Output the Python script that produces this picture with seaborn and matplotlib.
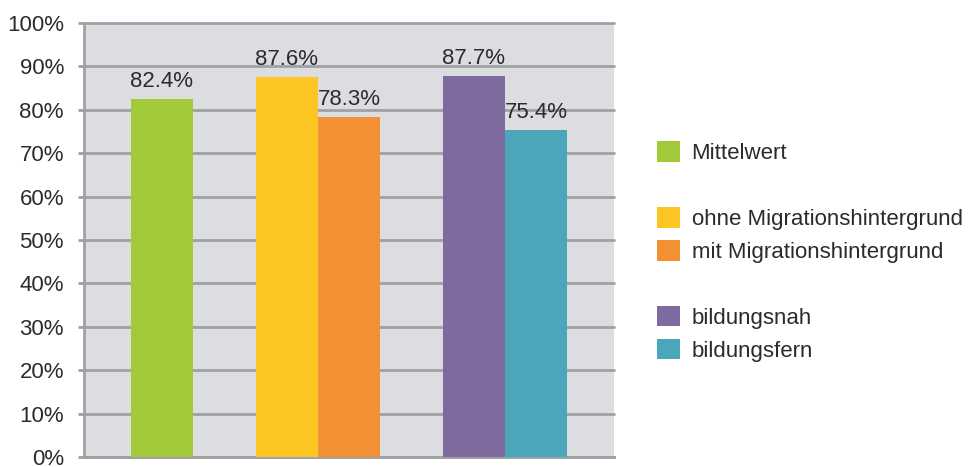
import matplotlib
matplotlib.use("Agg")
import matplotlib.pyplot as plt
from matplotlib.patches import Rectangle
import seaborn as sns
import pandas as pd

categories = ["Mittelwert", "ohne Migrationshintergrund", "mit Migrationshintergrund",
              "bildungsnah", "bildungsfern"]
values = [82.4, 87.6, 78.3, 87.7, 75.4]
colors = ["#a2c93a", "#fdc521", "#f39034", "#7f6a9f", "#4aa6b8"]
yticks = [0, 10, 20, 30, 40, 50, 60, 70, 80, 90, 100]
ytick_labels = [f"{v}%" for v in yticks]

sns.set_style("white")
plt.rcParams["font.family"] = ["Liberation Sans", "DejaVu Sans"]

df = pd.DataFrame({"Gruppe": categories, "Wert": values})
palette = dict(zip(categories, colors))
order = ["Mittelwert", "_sp1", "ohne Migrationshintergrund", "mit Migrationshintergrund",
         "_sp2", "bildungsnah", "bildungsfern"]

fig = plt.figure(figsize=(9.75, 4.67), dpi=100)
ax = fig.add_axes([0.0862, 0.0214, 0.5436, 0.9293])
ax.set_facecolor("#dcdde0")

sns.barplot(data=df, x="Gruppe", y="Wert", hue="Gruppe", order=order,
            hue_order=categories, palette=palette, width=1, dodge=False,
            saturation=1, legend=False, ax=ax, zorder=3, linewidth=0,
            edgecolor="none")

grid_col = "#a0a1a3"
txt_col = "#2b2b2b"
fs = 16
ax.set_xlim(-1.25, 7.25)
ax.set_ylim(0, 100)
ax.set_yticks(yticks)
ax.set_yticklabels(ytick_labels, fontsize=fs, color=txt_col)
ax.set_xticks([])
ax.set_xlabel("")
ax.set_ylabel("")
ax.tick_params(axis="y", length=4.5, width=2, color=grid_col, pad=10, left=True)
ax.yaxis.grid(True, color=grid_col, linewidth=2)
ax.set_axisbelow(True)
for line in ax.get_ygridlines():
    line.set_clip_on(False)
for s in ["top", "right"]:
    ax.spines[s].set_visible(False)
for s in ["left", "bottom"]:
    ax.spines[s].set_color(grid_col)
    ax.spines[s].set_linewidth(2)

for c in ax.containers:
    ax.bar_label(c, labels=[f"{v:.1f}%" for v in c.datavalues], padding=5,
                 fontsize=fs, color=txt_col)

blank = Rectangle((0, 0), 1, 1, fc="none", ec="none")
handles, labels = [], []
groups = [[0], [1, 2], [3, 4]]
for gi, g in enumerate(groups):
    if gi > 0:
        handles.append(blank)
        labels.append("")
    for i in g:
        handles.append(Rectangle((0, 0), 1, 1, fc=colors[i], ec="none"))
        labels.append(categories[i])

fig.legend(handles, labels, loc="center left", bbox_to_anchor=(0.674, 0.4615),
           frameon=False, fontsize=fs, handlelength=1.05, handleheight=1.05,
           handletextpad=0.5, labelspacing=0.45, borderpad=0, borderaxespad=0,
           labelcolor=txt_col)

fig.savefig("out.png", dpi=100)
